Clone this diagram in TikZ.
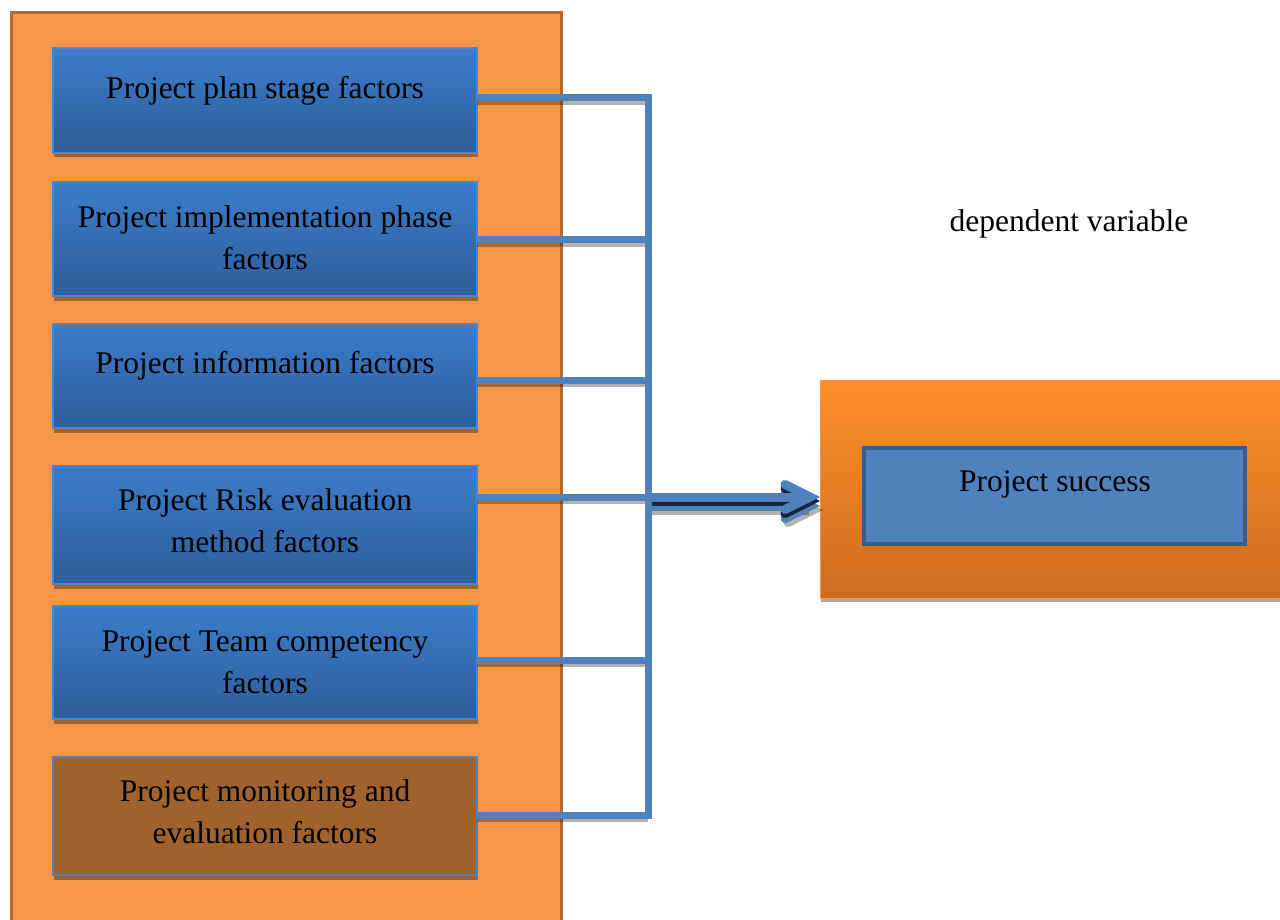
\documentclass[tikz,border=0pt]{standalone}
\usepackage{fontspec}
\setmainfont{Liberation Serif}
\usetikzlibrary{shadows,calc}
\definecolor{orfill}{HTML}{F79646}
\definecolor{ordraw}{HTML}{B5692F}
\definecolor{btop}{HTML}{3C7DCA}
\definecolor{bbot}{HTML}{2E5D9A}
\definecolor{bdraw}{HTML}{4A86D0}
\definecolor{bshadow}{HTML}{A3612D}
\definecolor{conncol}{HTML}{4F81BD}
\definecolor{navy}{HTML}{17253A}
\definecolor{brownbox}{HTML}{A0622D}
\definecolor{rtop}{HTML}{FD8F2B}
\definecolor{rbot}{HTML}{CE6B1F}
\definecolor{psdraw}{HTML}{385D8A}
\tikzset{
  factorbox/.style={rectangle, anchor=north west, inner sep=0pt, outer sep=0pt,
    minimum width=424pt, top color=btop, bottom color=bbot, draw=bdraw, line width=1.5pt,
    drop shadow={shadow xshift=1pt, shadow yshift=-4.5pt, fill=bshadow, opacity=1}},
  lbl/.style={font=\fontsize{31.5}{42}\selectfont, align=center, text=black, inner sep=0pt},
  conn/.style={draw=conncol, line width=7pt},
  connshadow/.style={draw=black, opacity=0.3, line width=4pt},
  arrowlayer/.style={line width=9pt, line join=miter, line cap=round},
}
\begin{document}
\begin{tikzpicture}[x=1pt,y=-1pt]
\useasboundingbox (0,0) rectangle (1280,920);
% outer orange panel
\node[rectangle, anchor=north west, inner sep=0pt, minimum width=550pt, minimum height=920pt,
  fill=orfill, draw=ordraw, line width=3pt] (panel) at (9.5,11.5) {};
% factor boxes
\node[factorbox, minimum height=105pt] (b1) at (53,48) {};
\node[factorbox, minimum height=114pt] (b2) at (53,182) {};
\node[factorbox, minimum height=104pt] (b3) at (53,324) {};
\node[factorbox, minimum height=118pt] (b4) at (53,466) {};
\node[factorbox, minimum height=113pt] (b5) at (53,606) {};
\node[rectangle, anchor=north west, inner sep=0pt, outer sep=0pt, minimum width=424pt,
  minimum height=118pt, fill=brownbox, draw=conncol, line width=1.5pt,
  drop shadow={shadow xshift=1pt, shadow yshift=-4.5pt, fill=bshadow, opacity=1}] (b6) at (53,757) {};
% labels
\node[lbl] (t1) at (265,91) {Project plan stage factors};
\node[lbl] (t2) at (265,238) {Project implementation phase\\factors};
\node[lbl] (t3) at (265,366) {Project information factors};
\node[lbl] (t4) at (265,521) {Project Risk evaluation\\method factors};
\node[lbl] (t5) at (265,662) {Project Team competency\\factors};
\node[lbl] (t6) at (265,812) {Project monitoring and\\evaluation factors};
% right box
\node[rectangle, anchor=north west, inner sep=0pt, outer sep=0pt, minimum width=462pt,
  minimum height=218pt, top color=rtop, bottom color=rbot, draw=orfill, line width=1pt,
  drop shadow={shadow xshift=1pt, shadow yshift=-4pt, fill=black, opacity=0.35}] (rb) at (820,380) {};
\node[rectangle, anchor=north west, inner sep=0pt, outer sep=0pt, minimum width=381pt,
  minimum height=96pt, fill=conncol, draw=psdraw, line width=4pt] (ps) at (864,448) {};
\node[lbl] (tps) at (1055,484) {Project success};
\node[lbl] (dv) at (1069,224) {dependent variable};
% junction coordinates
\coordinate (v1) at (648,98);
\coordinate (v2) at (648,240);
\coordinate (v3) at (648,380);
\coordinate (j)  at (648,497);
\coordinate (v5) at (648,660);
\coordinate (v6) at (648,815);
\coordinate (tip) at (810,497);
% connector shadows
\foreach \b/\v in {b1/v1,b2/v2,b3/v3,b4/j,b5/v5,b6/v6}{
  \draw[connshadow] ($(\b.east |- \v)+(0,5)$) -- ($(\v)+(0,5)$);
}
% arrow layers: gray shadow, blue, navy, blue
\foreach \dx/\dy/\col/\op in {3/13/black/0.3, 0/9/conncol/1, 0/4/navy/1, 0/0/conncol/1}{
  \draw[arrowlayer, draw=\col, opacity=\op, line cap=butt] ($(j)+(\dx,\dy)$) -- ($(tip)+(\dx-4,\dy)$);
  \draw[arrowlayer, draw=\col, opacity=\op]
    ($(tip)+(\dx-25,\dy-12.5)$) -- ($(tip)+(\dx,\dy)$) -- ($(tip)+(\dx-25,\dy+12.5)$);
}
% connectors
\foreach \b/\v in {b1/v1,b2/v2,b3/v3,b4/j,b5/v5,b6/v6}{
  \draw[conn] (\b.east |- \v) -- (\v);
}
\draw[conn] ($(v1)+(0,-3.5)$) -- ($(v6)+(0,3.5)$);
\end{tikzpicture}
\end{document}
